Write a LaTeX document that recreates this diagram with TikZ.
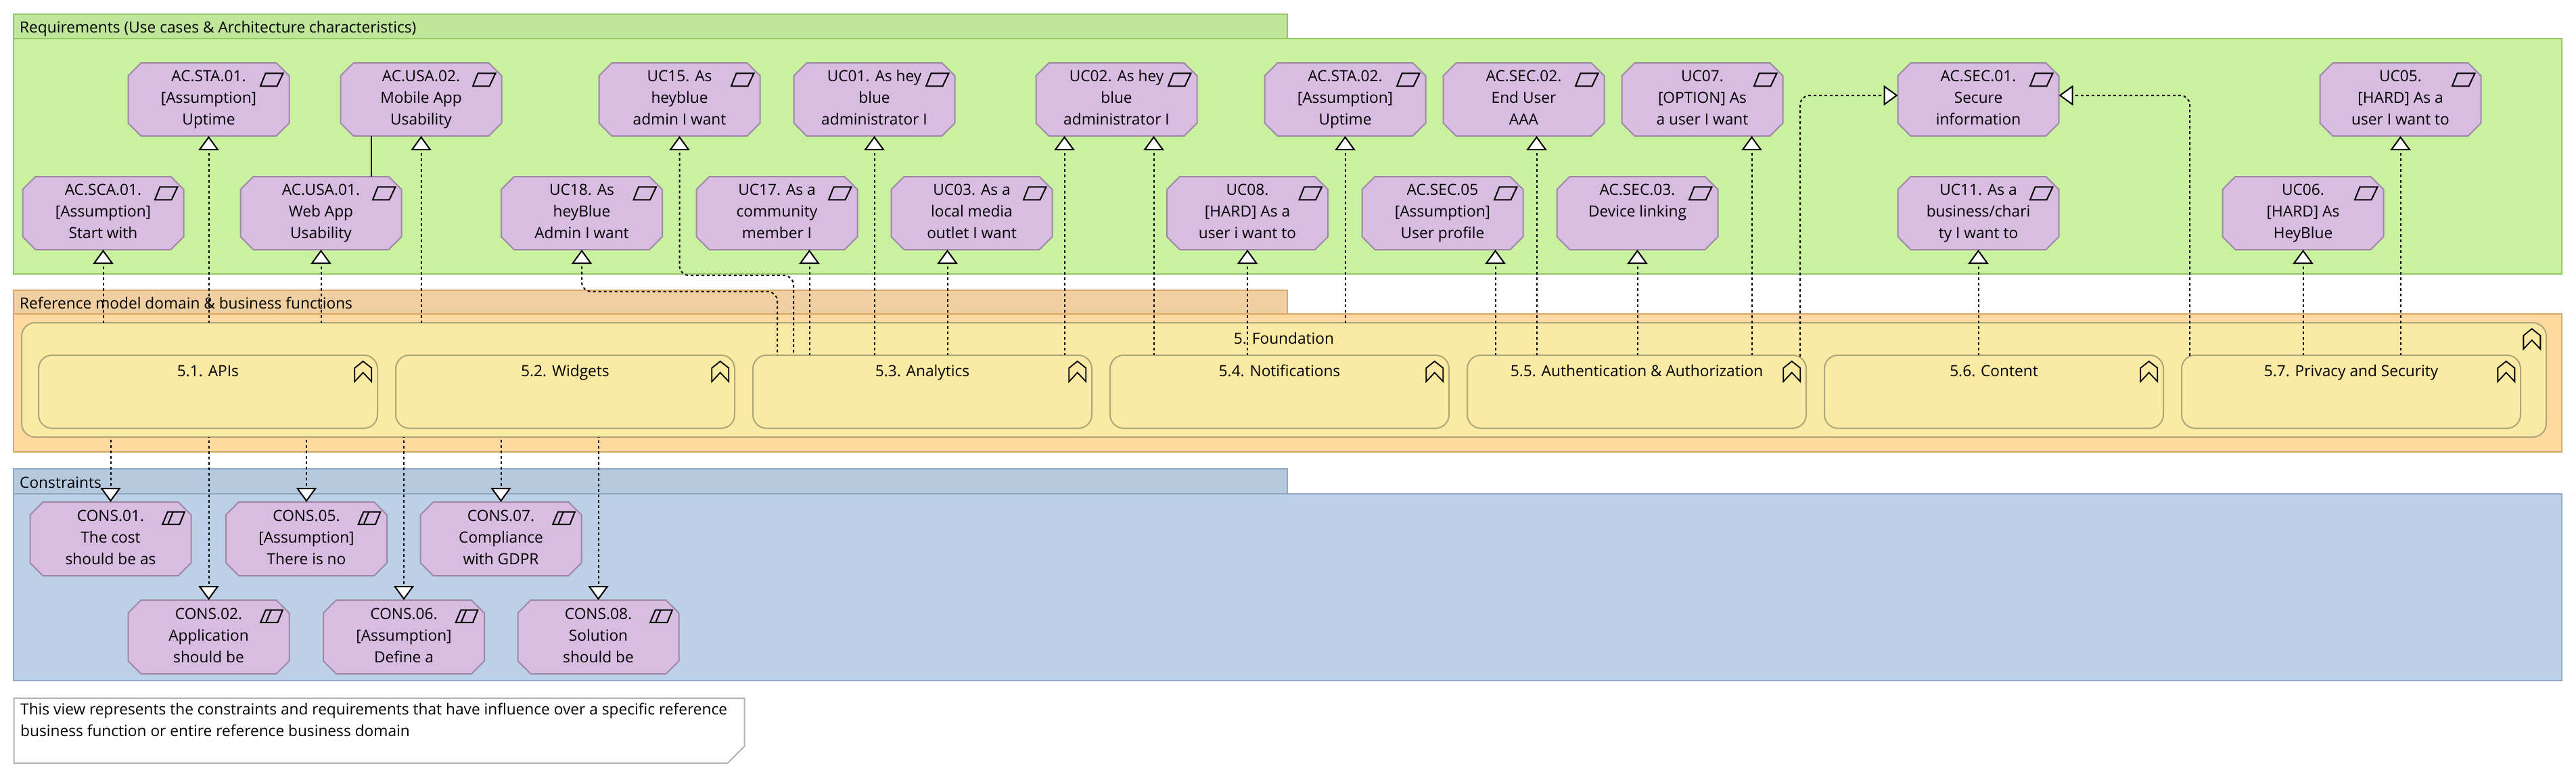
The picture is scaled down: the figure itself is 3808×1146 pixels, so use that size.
\documentclass[tikz,border=0pt]{standalone}
\usepackage{fontspec}
\setmainfont{Open Sans}
\usetikzlibrary{arrows.meta}

\definecolor{reqbody}{HTML}{C9F1A0}
\definecolor{reqhead}{HTML}{C0E69B}
\definecolor{reqline}{HTML}{94C666}
\definecolor{refbody}{HTML}{FFD9A0}
\definecolor{refhead}{HTML}{F0D0A0}
\definecolor{refline}{HTML}{D9A866}
\definecolor{conbody}{HTML}{BCD1E8}
\definecolor{conhead}{HTML}{B5CADF}
\definecolor{conline}{HTML}{8FA9C6}
\definecolor{motfill}{HTML}{D9BCE1}
\definecolor{motline}{HTML}{9E88A6}
\definecolor{fnfill}{HTML}{FBEAA4}
\definecolor{fnline}{HTML}{ADA67A}

\newcommand{\threelines}[3]{\rule[-7pt]{0pt}{25pt}#1\\{}#2\\{}#3\rule[-7pt]{0pt}{25pt}}
% cut corners round a motivation box
\newcommand{\cutbox}[1]{
  \draw[motshape] ([xshift=19pt]#1.north west) -- ([xshift=-19pt]#1.north east) -- ([yshift=-19pt]#1.north east)
    -- ([yshift=19pt]#1.south east) -- ([xshift=-19pt]#1.south east) -- ([xshift=19pt]#1.south west)
    -- ([yshift=19pt]#1.south west) -- ([yshift=-19pt]#1.north west) -- cycle;
}

\tikzset{
  motbox/.style={rectangle,outer sep=0pt,minimum width=238pt,minimum height=108pt,inner sep=0pt},
  motshape/.style={draw=motline,fill=motfill,line width=2pt},
  mottext/.style={inner sep=0pt,align=center},
  fnbox/.style={rectangle,rounded corners=20pt,draw=fnline,fill=fnfill,line width=2pt,inner sep=0pt,outer sep=0pt},
  realize/.style={dash pattern=on 4pt off 4pt,dash phase=4pt,line width=2pt,{Triangle[fill=white,length=21pt,width=30pt]}-},
  marker/.style={line width=2pt,line join=miter},
  chevron/.style={line width=1.8pt,line join=miter}
}

\begin{document}
\begin{tikzpicture}[x=1pt,y=-1pt,font=\fontsize{22.7}{32}\selectfont]
\useasboundingbox (0,0) rectangle (3808,1146);

% --- Groups ---
\fill[reqbody,draw=reqline,line width=2pt] (20,57) rectangle (3787,405);
\fill[reqhead,draw=reqline,line width=2pt] (20,21) rectangle (1903,57);
\node[anchor=base west,inner sep=0pt] (reqtitle) at (29,48) {Requirements (Use cases \& Architecture characteristics)};
\fill[refbody,draw=refline,line width=2pt] (20,464) rectangle (3787,668);
\fill[refhead,draw=refline,line width=2pt] (20,429) rectangle (1903,464);
\node[anchor=base west,inner sep=0pt] (reftitle) at (29,456) {Reference model domain \& business functions};
\fill[conbody,draw=conline,line width=2pt] (20,730) rectangle (3787,1006);
\fill[conhead,draw=conline,line width=2pt] (20,693) rectangle (1903,730);
\node[anchor=base west,inner sep=0pt] (contitle) at (29,721) {Constraints};

% --- Business functions ---
\node[fnbox,anchor=north west,minimum width=3732pt,minimum height=169pt] (f5) at (32,477) {};
\node[anchor=base,inner sep=0pt] (f5text) at (1898,508) {5. Foundation};
\foreach \n/\x/\t in {fn51/57/{5.1. APIs},fn52/585/{5.2. Widgets},fn53/1113/{5.3. Analytics},
  fn54/1641/{5.4. Notifications},fn55/2169/{5.5. Authentication \& Authorization},
  fn56/2697/{5.6. Content},fn57/3225/{5.7. Privacy and Security}} {
  \node[fnbox,anchor=north west,minimum width=501pt,minimum height=108pt] (\n) at (\x,525) {};
  \node[anchor=base,inner sep=0pt] (\n text) at ([yshift=-31pt]\n.north) {\t};
}
% chevrons
\foreach \n in {f5,fn51,fn52,fn53,fn54,fn55,fn56,fn57} {
  \draw[chevron] ([shift={(-21.3pt,-9pt)}]\n.north east) -- ++(12.6pt,-10pt) -- ++(0pt,-20pt)
    -- ++(-12.6pt,13.3pt) -- ++(-12.4pt,-13.3pt) -- ++(0pt,20pt) -- cycle;
}

% --- Requirements ---
\foreach \n/\x/\y/\a/\b/\c in {
  acsta01/308.5/147/{AC.STA.01.}/{[Assumption]}/{Uptime},
  acusa02/622.5/147/{AC.USA.02.}/{Mobile App}/{Usability},
  uc15/1004.5/147/{UC15. As}/{heyblue}/{admin I want},
  uc01/1292.5/147/{UC01. As hey}/{blue}/{administrator I},
  uc02/1650.5/147/{UC02. As hey}/{blue}/{administrator I},
  acsta02/1988.5/147/{AC.STA.02.}/{[Assumption]}/{Uptime},
  acsec02/2252.5/147/{AC.SEC.02.}/{End User}/{AAA},
  uc07/2516.5/147/{UC07.}/{[OPTION] As}/{a user I want},
  acsec01/2924.5/147/{AC.SEC.01.}/{Secure}/{information},
  uc05/3548.5/147/{UC05.}/{[HARD] As a}/{user I want to},
  acsca01/152.5/315/{AC.SCA.01.}/{[Assumption]}/{Start with},
  acusa01/474.5/315/{AC.USA.01.}/{Web App}/{Usability},
  uc18/860/315/{UC18. As}/{heyBlue}/{Admin I want},
  uc17/1148.5/315/{UC17. As a}/{community}/{member I},
  uc03/1436.5/315/{UC03. As a}/{local media}/{outlet I want},
  uc08/1844/315/{UC08.}/{[HARD] As a}/{user i want to},
  acsec05/2132.5/315/{AC.SEC.05}/{[Assumption]}/{User profile},
  acsec03/2420.5/315/{AC.SEC.03.}/{Device linking}/{},
  uc11/2924.5/315/{UC11. As a}/{business/chari}/{ty I want to},
  uc06/3404.5/315/{UC06.}/{[HARD] As}/{HeyBlue}} {
  \node[motbox] (\n) at (\x,\y) {};
  \cutbox{\n}
  \node[mottext] (\n text) at (\n) {\threelines{\a}{\b}{\c}};
  \draw[marker] ([shift={(-42.5pt,-34.3pt)}]\n.north east) -- ++(7.5pt,19pt) -- ++(26pt,0pt)
    -- ++(-9pt,-19pt) -- cycle;
}

% --- Constraints ---
\foreach \n/\x/\y/\a/\b/\c in {
  cons01/163.5/796.5/{CONS.01.}/{The cost}/{should be as},
  cons05/453/796.5/{CONS.05.}/{[Assumption]}/{There is no},
  cons07/740.5/796.5/{CONS.07.}/{Compliance}/{with GDPR},
  cons02/308.5/941.5/{CONS.02.}/{Application}/{should be},
  cons06/597/941.5/{CONS.06.}/{[Assumption]}/{Define a},
  cons08/884.5/941.5/{CONS.08.}/{Solution}/{should be}} {
  \node[motbox,minimum height=109pt] (\n) at (\x,\y) {};
  \cutbox{\n}
  \node[mottext] (\n text) at (\n) {\threelines{\a}{\b}{\c}};
  \draw[marker] ([shift={(-42.3pt,-33pt)}]\n.north east) -- ++(7.6pt,18.3pt) -- ++(25pt,0pt)
    -- ++(-7.3pt,-18.3pt) -- cycle;
  \draw[marker] ([shift={(-34.3pt,-33pt)}]\n.north east) -- ++(7.6pt,18.3pt);
}

% --- Realizations going up ---
\foreach \src/\dst/\off in {f5/acsca01/0,f5/acsta01/0,f5/acusa01/0,f5/acusa02/0,f5/acsta02/0,
  fn53/uc17/48,fn53/uc01/0,fn53/uc03/-36,fn53/uc02/-77,fn54/uc02/55,fn54/uc08/0,
  fn55/acsec05/78,fn55/acsec02/19,fn55/acsec03/0,fn55/uc07/73,fn56/uc11/0,fn57/uc06/0,fn57/uc05/0} {
  \coordinate (tip) at ([xshift=\off pt]\dst.south);
  \draw[realize] (tip) -- (\src.north -| tip);
}

% bent ones
\coordinate (bendA) at (0,407);
\coordinate (bendB) at (0,431);
\coordinate (startA) at ([xshift=60pt]fn53.north west);
\coordinate (startB) at ([xshift=36pt]fn53.north west);
\draw[realize,rounded corners=14pt] (uc15.south) |- (bendA -| startA) -- (startA);
\draw[realize,rounded corners=14pt] (uc18.south) |- (bendB -| startB) -- (startB);
\draw[realize,rounded corners=14pt] ([yshift=6pt]acsec01.west) -| ([xshift=-9pt,yshift=-3pt]fn55.north east);
\draw[realize,rounded corners=14pt] ([yshift=6pt]acsec01.east) -| ([xshift=12pt,yshift=-3pt]fn57.north west);

% solid link between the two usability boxes
\draw[line width=2pt] ([xshift=-74pt]acusa02.south) -- ([xshift=74pt]acusa01.north);

% --- Realizations going down ---
\foreach \dst in {cons01,cons05,cons07,cons02,cons06,cons08} {
  \draw[realize] (\dst.north) -- (f5.south -| \dst.north);
}

% --- Note ---
\node[rectangle,outer sep=0pt,inner sep=0pt,anchor=north west,minimum width=1080pt,minimum height=96pt] (note) at (20.5,1032) {};
\draw[draw=black!30,fill=white,line width=2pt] (note.north west) -- (note.north east) -- ([yshift=25pt]note.south east)
  -- ([xshift=-25pt]note.south east) -- (note.south west) -- cycle;
\node[anchor=north west,inner sep=0pt,align=left] (notetext) at (30,1039) {\rule[-8pt]{0pt}{25pt}This view represents the constraints and requirements that have influence over a specific reference\\{}business function or entire reference business domain};

\end{tikzpicture}
\end{document}
